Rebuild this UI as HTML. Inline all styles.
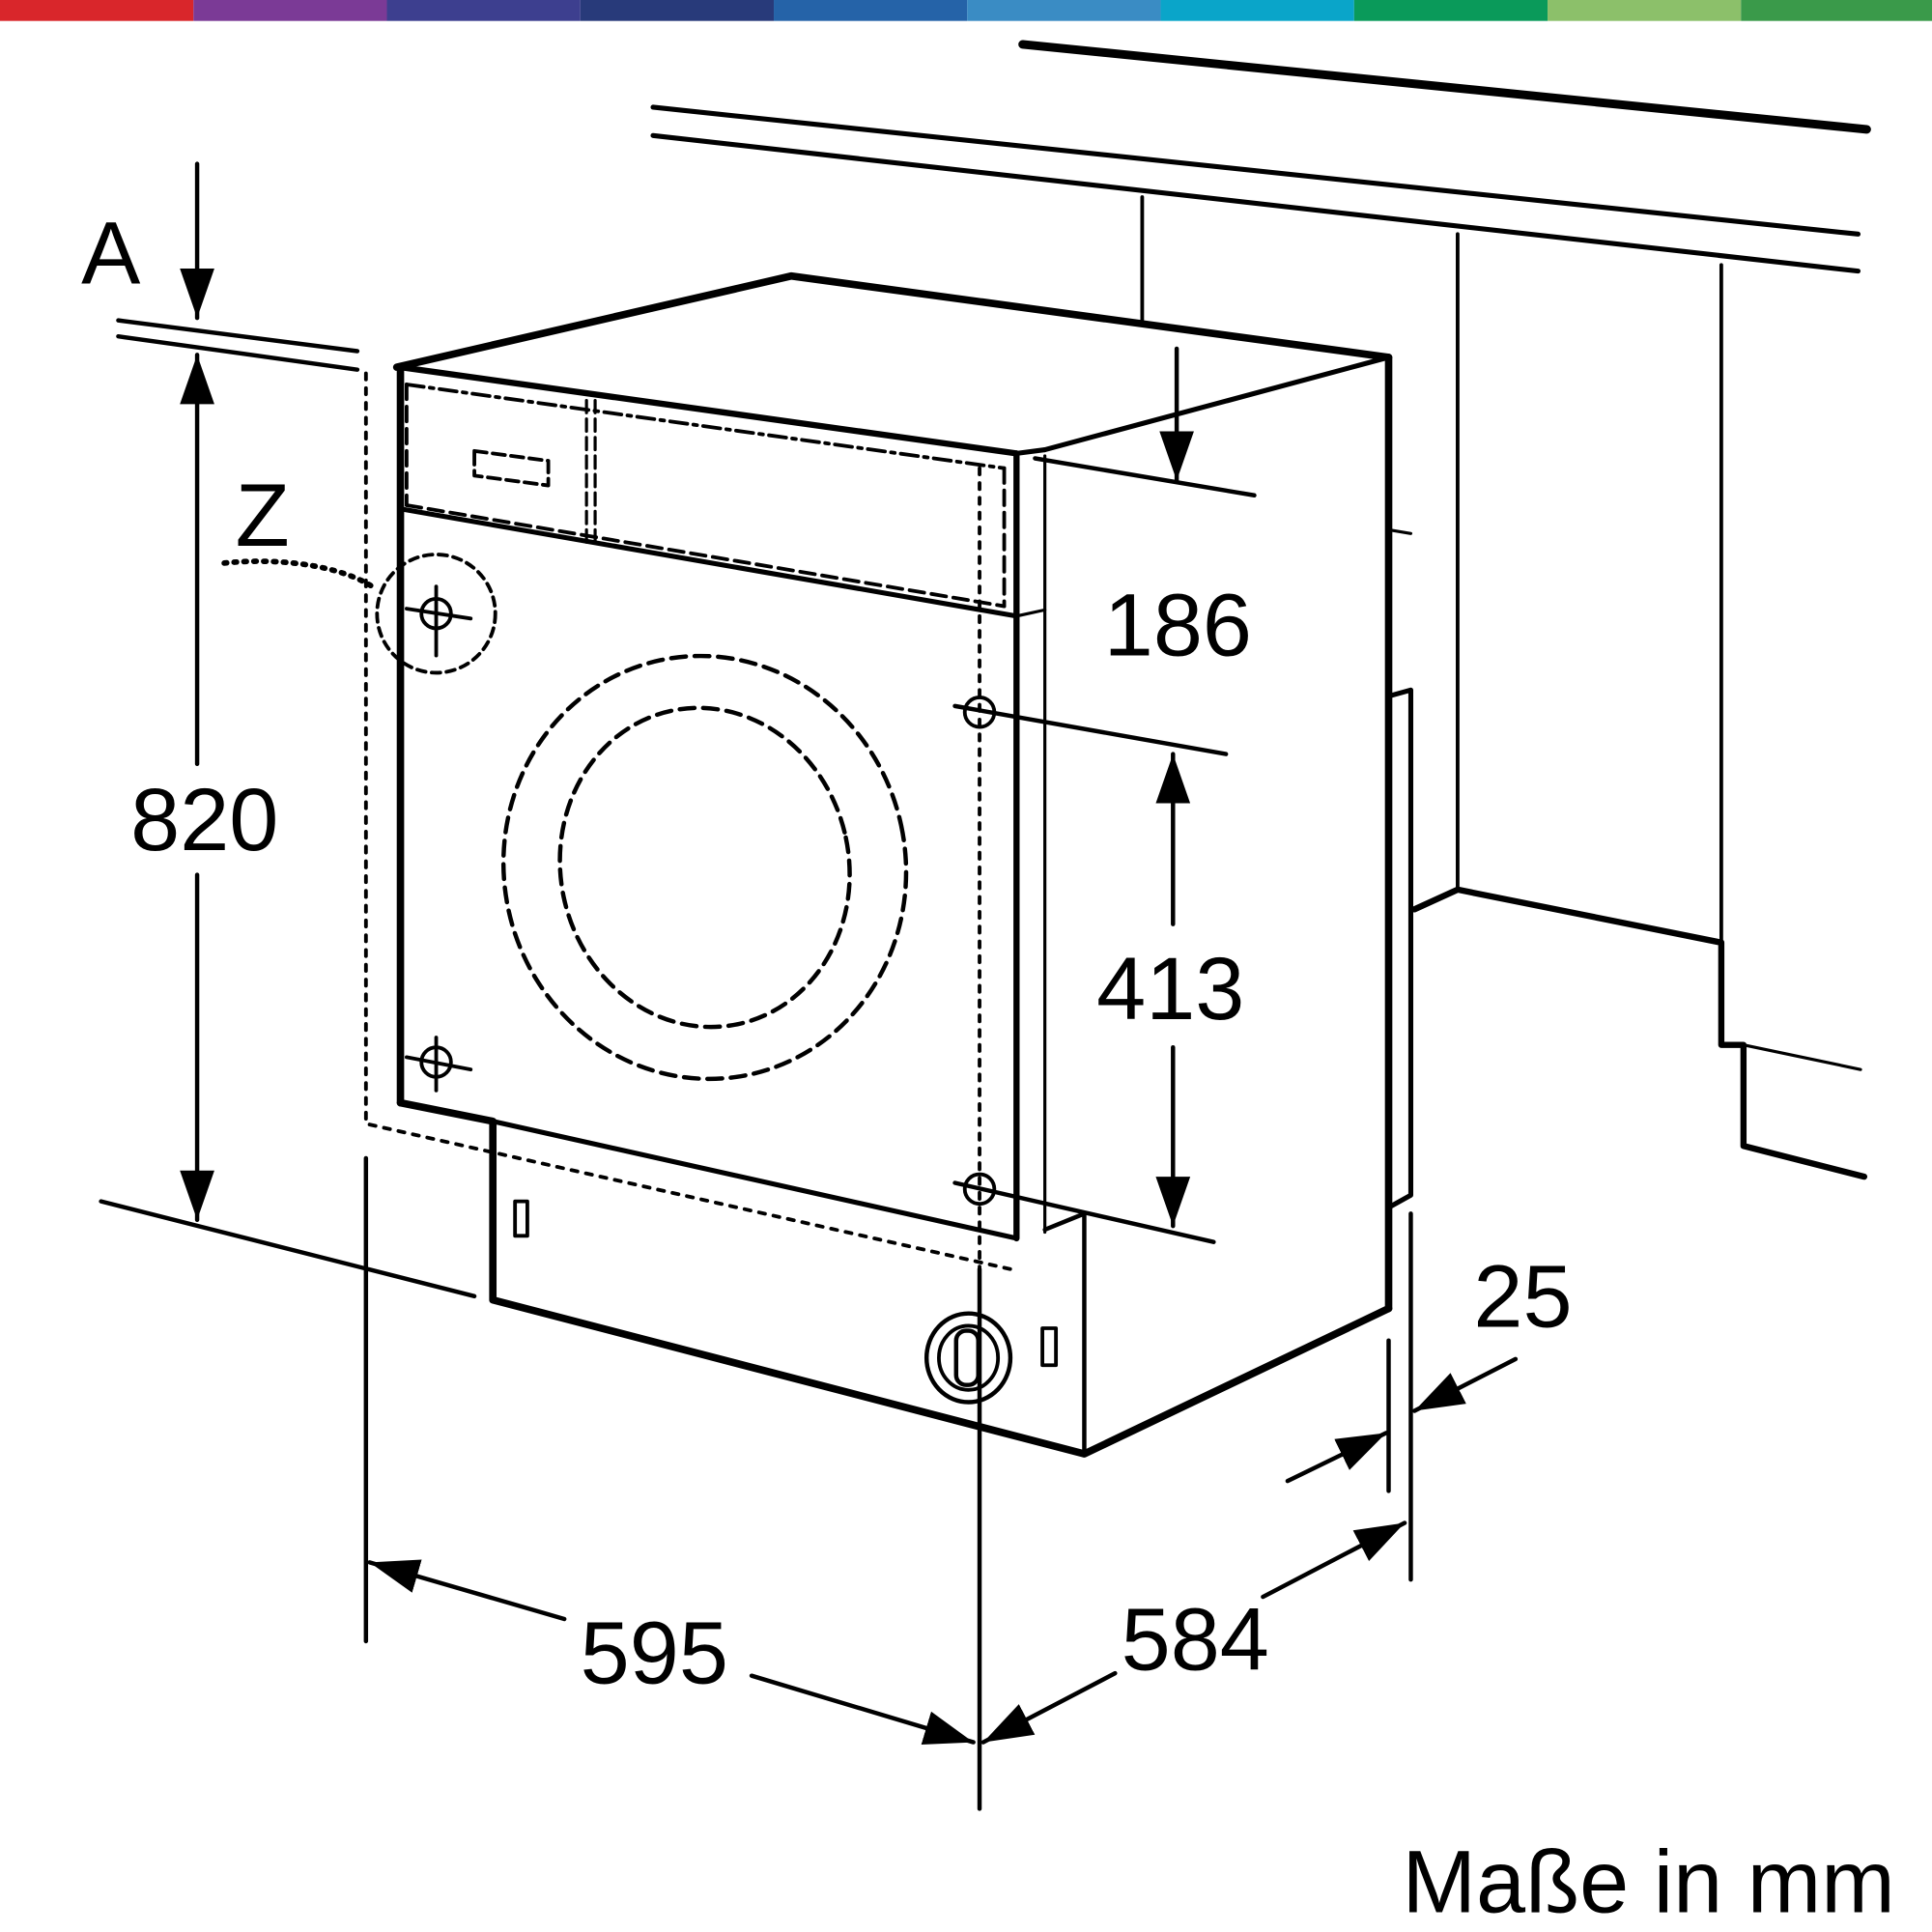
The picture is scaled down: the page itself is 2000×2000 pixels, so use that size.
<!DOCTYPE html>
<html><head><meta charset="utf-8"><style>html,body{margin:0;padding:0;background:#fff}svg{display:block}</style></head>
<body>
<svg width="2000" height="2000" viewBox="0 0 1568 1568" xmlns="http://www.w3.org/2000/svg" font-family="Liberation Sans, sans-serif">
<defs>
<marker id="arb" viewBox="0 0 10 10" refX="10" refY="5" markerWidth="40" markerHeight="40" markerUnits="userSpaceOnUse" orient="auto-start-reverse"><path d="M0,1.5 L10,5 L0,8.5 z" fill="#000"/></marker>
</defs>
<g>
<rect x="0" y="0" width="157" height="17" fill="#d9262b"/>
<rect x="157" y="0" width="157" height="17" fill="#7b3a96"/>
<rect x="314" y="0" width="157" height="17" fill="#3d3f8f"/>
<rect x="471" y="0" width="157" height="17" fill="#283a7a"/>
<rect x="628" y="0" width="157" height="17" fill="#2563a8"/>
<rect x="785" y="0" width="157" height="17" fill="#3a8cc4"/>
<rect x="942" y="0" width="157" height="17" fill="#0aa5c9"/>
<rect x="1099" y="0" width="157" height="17" fill="#0a9a5a"/>
<rect x="1256" y="0" width="157" height="17" fill="#8cc06a"/>
<rect x="1413" y="0" width="155" height="17" fill="#3a9a4a"/>
</g>
<g stroke="#000" fill="none" stroke-linecap="round" stroke-linejoin="round">
<line x1="830" y1="36" x2="1515" y2="105" stroke-width="7"/>
<line x1="530" y1="87" x2="1508" y2="190" stroke-width="4"/>
<line x1="530" y1="110" x2="1508" y2="220" stroke-width="4"/>
<line x1="927" y1="160" x2="927" y2="262" stroke-width="3"/>
<line x1="1183" y1="190" x2="1183" y2="722" stroke-width="3"/>
<line x1="1397" y1="215" x2="1397" y2="765" stroke-width="3"/>
<polyline points="1148,738 1183,722 1397,765 1397,848 1415,848 1415,930 1513,955" stroke-width="5"/>
<line x1="1415" y1="848" x2="1510" y2="868" stroke-width="2.5"/>
<polyline points="322,298 642,224 1127,290" stroke-width="6"/>
<line x1="325" y1="298" x2="825" y2="368" stroke-width="5"/>
<line x1="848" y1="365" x2="1127" y2="290" stroke-width="4"/>
<line x1="1127" y1="290" x2="1127" y2="1062" stroke-width="6"/>
<line x1="825" y1="368" x2="825" y2="1005" stroke-width="5"/>
<line x1="848" y1="370" x2="848" y2="1000" stroke-width="2.5"/>
<line x1="825" y1="368" x2="848" y2="365" stroke-width="4"/>
<line x1="325" y1="298" x2="325" y2="895" stroke-width="6"/>
<polyline points="325,895 400,910 400,1055 880,1180 1127,1062" stroke-width="6"/>
<line x1="400" y1="910" x2="825" y2="1005" stroke-width="4"/>
<polyline points="848,998 880,985 880,1180" stroke-width="3.5"/>
<line x1="325" y1="413" x2="825" y2="500" stroke-width="4"/>
<line x1="825" y1="500" x2="848" y2="495" stroke-width="2.5"/>
<polyline points="1127,565 1145,560 1145,970 1127,980" stroke-width="4"/>
<line x1="1127" y1="430" x2="1145" y2="433" stroke-width="2.5"/>
<polyline points="297,303 297,912 820,1030" stroke-width="3" stroke-dasharray="5,7"/>
<line x1="330" y1="312" x2="815" y2="380" stroke-width="3" stroke-dasharray="14,5,3,5"/>
<line x1="330" y1="410" x2="815" y2="492" stroke-width="3" stroke-dasharray="12,6"/>
<line x1="815" y1="380" x2="815" y2="492" stroke-width="3" stroke-dasharray="12,6"/>
<line x1="330" y1="312" x2="330" y2="410" stroke-width="3" stroke-dasharray="12,6"/>
<line x1="476" y1="325" x2="476" y2="440" stroke-width="2.5" stroke-dasharray="10,5"/>
<line x1="483" y1="325" x2="483" y2="440" stroke-width="2.5" stroke-dasharray="10,5"/>
<polygon points="385,366 445,374 445,394 385,386" stroke-width="3" stroke-dasharray="10,5"/>
<line x1="795" y1="380" x2="795" y2="1030" stroke-width="3" stroke-dasharray="5,7"/>
<ellipse cx="572" cy="704" rx="163" ry="172" stroke-width="3.5" stroke-dasharray="12,7" transform="rotate(-12 572 704)"/>
<ellipse cx="572" cy="704" rx="117" ry="130" stroke-width="3.5" stroke-dasharray="12,7" transform="rotate(-12 572 704)"/>
<circle cx="354" cy="498" r="48" stroke-width="3" stroke-dasharray="7,5"/>
<path d="M182,457 C230,452 280,460 305,478" stroke-width="4.5" stroke-dasharray="2,6"/>
<g stroke-width="3">
<circle cx="354" cy="498" r="12"/><line x1="330" y1="494" x2="382" y2="502"/><line x1="354" y1="476" x2="354" y2="532"/>
<circle cx="354" cy="862" r="12"/><line x1="330" y1="858" x2="382" y2="868"/><line x1="354" y1="842" x2="354" y2="885"/>
<circle cx="795" cy="578" r="12"/>
<circle cx="795" cy="965" r="12"/>
</g>
<rect x="418" y="975" width="10" height="28" stroke-width="3"/>
<rect x="846" y="1078" width="11" height="30" stroke-width="3"/>
<ellipse cx="786" cy="1102" rx="34" ry="36" stroke-width="3.5"/>
<ellipse cx="786" cy="1102" rx="24" ry="26" stroke-width="3"/>
<rect x="776" y="1080" width="18" height="44" rx="8" stroke-width="3.5"/>
<line x1="96" y1="260" x2="290" y2="285" stroke-width="3.5"/>
<line x1="96" y1="273" x2="290" y2="300" stroke-width="3.5"/>
<line x1="160" y1="133" x2="160" y2="258" stroke-width="3.5" marker-end="url(#arb)"/>
<line x1="160" y1="620" x2="160" y2="288" stroke-width="3.5" marker-end="url(#arb)"/>
<line x1="160" y1="710" x2="160" y2="990" stroke-width="3.5" marker-end="url(#arb)"/>
<line x1="82" y1="975" x2="385" y2="1052" stroke-width="3.5"/>
<line x1="955" y1="283" x2="955" y2="390" stroke-width="3.5" marker-end="url(#arb)"/>
<line x1="840" y1="372" x2="1018" y2="402" stroke-width="3.5"/>
<line x1="775" y1="573" x2="995" y2="612" stroke-width="3.5"/>
<line x1="775" y1="960" x2="985" y2="1008" stroke-width="3.5"/>
<line x1="952" y1="750" x2="952" y2="612" stroke-width="3.5" marker-end="url(#arb)"/>
<line x1="952" y1="850" x2="952" y2="995" stroke-width="3.5" marker-end="url(#arb)"/>
<line x1="297" y1="940" x2="297" y2="1332" stroke-width="3.5"/>
<line x1="795" y1="1030" x2="795" y2="1468" stroke-width="3.5"/>
<line x1="458" y1="1314" x2="300" y2="1268" stroke-width="3.5" marker-end="url(#arb)"/>
<line x1="610" y1="1360" x2="790" y2="1414" stroke-width="3.5" marker-end="url(#arb)"/>
<line x1="905" y1="1358" x2="798" y2="1414" stroke-width="3.5" marker-end="url(#arb)"/>
<line x1="1025" y1="1296" x2="1140" y2="1236" stroke-width="3.5" marker-end="url(#arb)"/>
<line x1="1127" y1="1088" x2="1127" y2="1210" stroke-width="3.5"/>
<line x1="1145" y1="985" x2="1145" y2="1282" stroke-width="3.5"/>
<line x1="1045" y1="1202" x2="1125" y2="1163" stroke-width="3.5" marker-end="url(#arb)"/>
<line x1="1230" y1="1103" x2="1148" y2="1145" stroke-width="3.5" marker-end="url(#arb)"/>
</g>
<g fill="#000" font-size="72" text-anchor="middle">
<text x="90" y="230">A</text>
<text x="213" y="443">Z</text>
<text x="166" y="690">820</text>
<text x="956" y="532">186</text>
<text x="950" y="827">413</text>
<text x="531" y="1366">595</text>
<text x="970" y="1355">584</text>
<text x="1236" y="1077">25</text>
<text x="1538" y="1552" text-anchor="end" font-size="72">Maße in mm</text>
</g>
</svg>
</body></html>
